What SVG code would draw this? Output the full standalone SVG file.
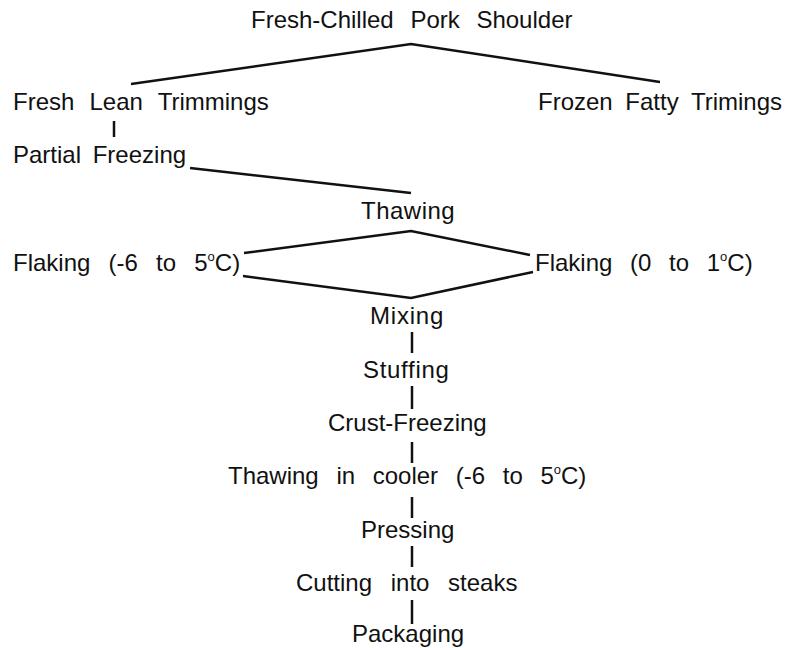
<svg xmlns="http://www.w3.org/2000/svg" width="796" height="648" viewBox="0 0 796 648">
<style>
text{font-family:"Liberation Sans",Arial,sans-serif;font-size:24px;fill:#111}
line,polyline{stroke:#111;stroke-width:2.5;fill:none}
.sup{font-size:13px}
</style>
<rect width="796" height="648" fill="#fff"/>
<g id="connectors">
<polyline points="131,84 411,44 660,82"/>
<line x1="114" y1="121" x2="114" y2="137"/>
<polyline points="190,168 411,193"/>
<polyline points="244,253 411,231 530,255"/>
<polyline points="243,276 411,298 533,272"/>
<line x1="412" y1="332" x2="412" y2="353"/>
<line x1="412" y1="386" x2="412" y2="409"/>
<line x1="412" y1="442" x2="412" y2="463"/>
<line x1="412" y1="497" x2="412" y2="518"/>
<line x1="412" y1="546" x2="412" y2="567"/>
<line x1="412" y1="600" x2="412" y2="624"/>
</g>
<g id="n-shoulder"><text x="251" y="28" word-spacing="10">Fresh-Chilled Pork Shoulder</text></g>
<g id="n-lean"><text x="13" y="110" word-spacing="8.5">Fresh Lean Trimmings</text></g>
<g id="n-fatty"><text x="538" y="110" word-spacing="6">Frozen Fatty Trimings</text></g>
<g id="n-partial"><text x="13" y="163" word-spacing="5">Partial Freezing</text></g>
<g id="n-thawing"><text x="361" y="219" letter-spacing="0.5">Thawing</text></g>
<g id="n-flake1"><text x="13" y="271" word-spacing="11.5">Flaking (-6 to 5<tspan class="sup" dy="-10">o</tspan><tspan dy="10">C)</tspan></text></g>
<g id="n-flake2"><text x="535" y="271" word-spacing="11">Flaking (0 to 1<tspan class="sup" dy="-10">o</tspan><tspan dy="10">C)</tspan></text></g>
<g id="n-mixing"><text x="370" y="324" letter-spacing="0.8">Mixing</text></g>
<g id="n-stuffing"><text x="363" y="378" letter-spacing="0.7">Stuffing</text></g>
<g id="n-crust"><text x="328" y="431">Crust-Freezing</text></g>
<g id="n-cooler"><text x="228" y="484" word-spacing="11">Thawing in cooler (-6 to 5<tspan class="sup" dy="-10">o</tspan><tspan dy="10">C)</tspan></text></g>
<g id="n-pressing"><text x="361" y="538">Pressing</text></g>
<g id="n-cutting"><text x="296" y="591" word-spacing="12">Cutting into steaks</text></g>
<g id="n-packaging"><text x="352" y="642">Packaging</text></g>
</svg>
